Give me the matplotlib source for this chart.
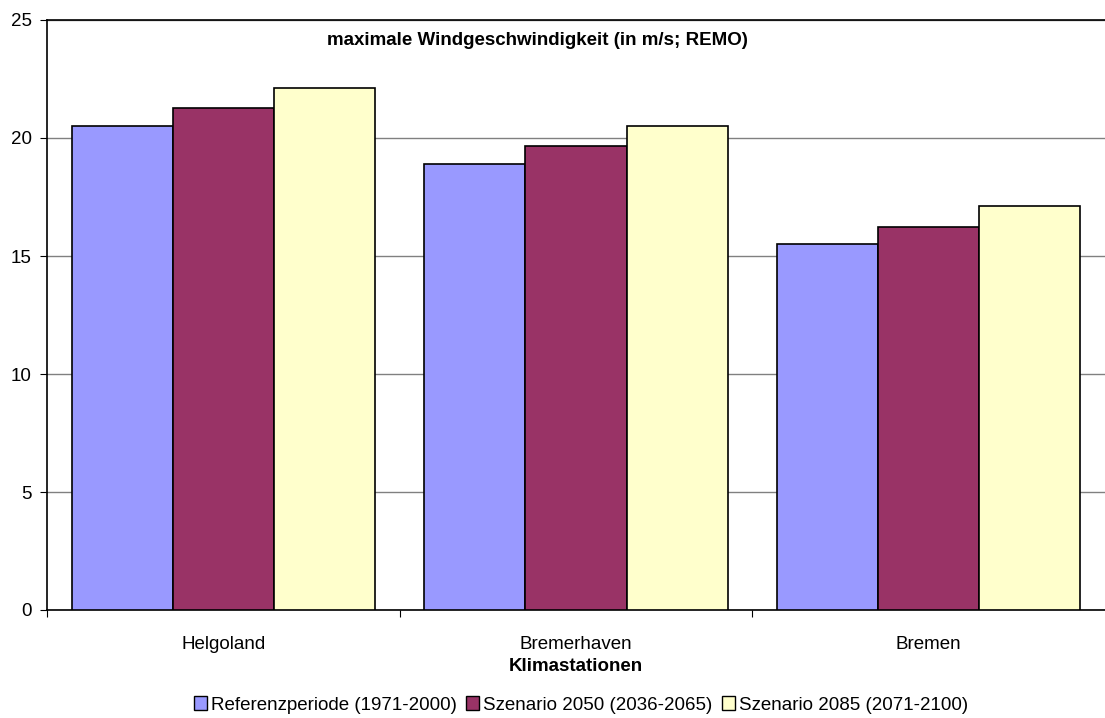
import numpy as np
import matplotlib.pyplot as plt
from matplotlib.patches import Patch

plt.rcParams['font.family'] = ['Liberation Sans', 'DejaVu Sans']

# Daten
stationen = ["Helgoland", "Bremerhaven", "Bremen"]
serien = ["Referenzperiode (1971-2000)", "Szenario 2050 (2036-2065)", "Szenario 2085 (2071-2100)"]
referenz = [20.5, 18.9, 15.5]
szenario_2050 = [21.25, 19.65, 16.25]
szenario_2085 = [22.1, 20.5, 17.1]
farben = ["#9999FF", "#993366", "#FFFFCC"]

fig = plt.figure(figsize=(11.05, 7.18), dpi=100)
ax = fig.add_axes([47 / 1105, 1 - 610 / 718, 1 - 47 / 1105, 590 / 718])

x = np.arange(len(stationen))
breite = 0.287
for i, (werte, farbe) in enumerate(zip([referenz, szenario_2050, szenario_2085], farben)):
    ax.bar(x + (i - 1) * breite, werte, breite, color=farbe, edgecolor="black", linewidth=1.2, zorder=3)

ax.set_xlim(-0.5, 2.5)
ax.set_ylim(0, 25)
ax.set_yticks(range(0, 26, 5))
ax.yaxis.grid(True, color="#808080", linewidth=1, zorder=0)

# Ticks zwischen den Kategorien
ax.set_xticks([-0.5, 0.5, 1.5])
ax.set_xticklabels([])
ax.set_xticks(x, minor=True)
ax.set_xticklabels(stationen, minor=True, fontsize=13.5)
ax.tick_params(axis="x", which="minor", length=0, pad=19)
ax.tick_params(axis="x", which="major", length=5, direction="out")
ax.tick_params(axis="y", length=5, direction="out", labelsize=13.5, pad=6)

ax.spines["right"].set_visible(False)
for s in ["left", "top", "bottom"]:
    ax.spines[s].set_color("black")
    ax.spines[s].set_linewidth(1.2)

ax.text(0.464, 0.966, "maximale Windgeschwindigkeit (in m/s; REMO)", transform=ax.transAxes,
        ha="center", va="center", fontsize=13.5, fontweight="bold")

ax.set_xlabel("Klimastationen", fontsize=13.5, fontweight="bold", labelpad=3)

handles = [Patch(facecolor=f, edgecolor="black", linewidth=1) for f in farben]
fig.legend(handles, serien, loc="center", bbox_to_anchor=(581 / 1105, 1 - 705 / 718), ncol=3,
           frameon=False, fontsize=13.5, handlelength=0.7, handleheight=0.7, handletextpad=0.2,
           columnspacing=0.5)

fig.savefig("out.png", dpi=100)
